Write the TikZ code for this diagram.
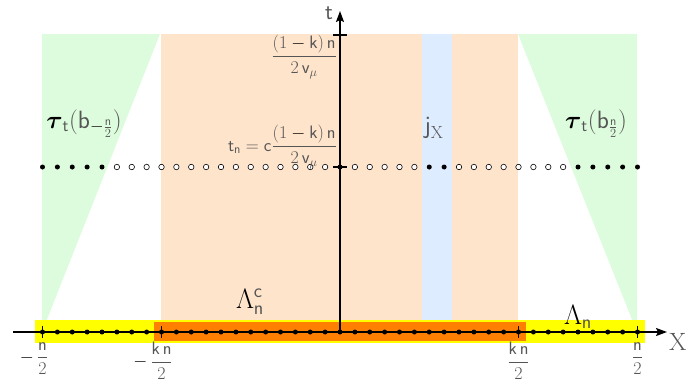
\RequirePackage{fix-cm}
\documentclass[tikz,border=0pt]{standalone}
\usepackage{amsmath,bm}
\usetikzlibrary{arrows.meta,calc}
\definecolor{peach}{RGB}{255,228,204}
\definecolor{skyb}{RGB}{221,236,255}
\definecolor{mint}{RGB}{221,252,221}
\definecolor{yel}{RGB}{255,255,0}
\definecolor{org}{RGB}{255,128,0}
\definecolor{txt}{RGB}{85,85,85}
\newcommand\sv[1]{\textsf{#1}}
\newcommand\bmin{\mathbin{\color{black}-}}
\begin{document}
\begin{tikzpicture}[x=1pt,y=-1pt,
  dotf/.style={circle,fill=black,inner sep=0pt,minimum size=5pt},
  doto/.style={circle,draw=black,fill=white,line width=0.6pt,inner sep=0pt,minimum size=5.5pt},
  axisline/.style={line width=1.6pt,-{Stealth[length=11pt,width=8pt,inset=2pt]}},
  tickmark/.style={line width=1.4pt},
  lbl/.style={text=txt,inner sep=0pt},
  big/.style={lbl,font=\fontsize{25}{27}\selectfont},
  huge/.style={lbl,font=\fontsize{28}{30}\selectfont},
  mid/.style={lbl,font=\fontsize{18}{20}\selectfont},
  ticklbl/.style={lbl,anchor=north,font=\fontsize{18}{20}\selectfont},
]
\useasboundingbox (0,0) rectangle (700,386);
% regions
\fill[mint] (42,34) -- (160,34) -- (42,332) -- cycle;
\fill[mint] (518,34) -- (637,34) -- (637,332) -- cycle;
\fill[peach] (161,34) rectangle (518,332);
\fill[skyb] (421.5,34) rectangle (451.5,322);
\fill[yel] (35,320) rectangle (645,343);
\fill[org] (154,322) rectangle (526,341);
% axes
\coordinate (O) at (340,332);
\coordinate (xs) at (13,332);
\coordinate (xe) at (667,332);
\coordinate (te) at (340,11);
\draw[axisline] (xs) -- (xe);
\draw[axisline] (O) -- (te);
\coordinate (ttop) at (340,35);
\coordinate (tn) at (340,167);
\draw[tickmark] ($(ttop)+(-7,0)$) -- ($(ttop)+(7,0)$);
\draw[tickmark] ($(tn)+(-7,0)$) -- ($(tn)+(7,0)$);
% lattice on axis
\foreach \i in {-20,...,20}{
  \node[dotf] (a\i) at ({340+\i*14.875},332) {};
}
\foreach \i in {-20,-12,12,20}{
  \draw[tickmark] ($(a\i)+(0,-6)$) -- ($(a\i)+(0,6)$);
}
% row at t_n
\foreach \i in {-20,...,20}{
  \pgfmathtruncatemacro\f{(\i<-15)||(\i>15)||(\i==6)||(\i==7)||(\i==0)}
  \ifnum\f=1
    \node[dotf] (r\i) at ({340+\i*14.875},167) {};
  \else
    \node[doto] (r\i) at ({340+\i*14.875},167) {};
  \fi
}
% labels
\node[lbl,anchor=base,font=\fontsize{23}{25}\selectfont] (tlab) at (329,19) {\sv{t}};
\node[big,anchor=base west] (xlab) at (669,350) {X};
\node[mid,anchor=east] (frac1) at (337,57) {$\dfrac{(1\bmin\sv{k})\,\sv{n}}{2\,\sv{v}_{\mu}}$};
\node[mid,anchor=east] (tnlab) at (337,147) {$\sv{t}_{\sv{n}}=\sv{c}\dfrac{(1\bmin\sv{k})\,\sv{n}}{2\,\sv{v}_{\mu}}$};
\node[big,anchor=base] (tauL) at (84,128) {${\color{black}\bm{\tau}}_{\sv{t}}(\sv{b}_{\bmin\frac{\sv{n}}{2}})$};
\node[big,anchor=base] (tauR) at (596,128) {${\color{black}\bm{\tau}}_{\sv{t}}(\sv{b}_{\frac{\sv{n}}{2}})$};
\node[big,anchor=base] (jx) at (434,133) {$\sv{j}_{\mathrm{X}}$};
\node[huge,anchor=base] (lamc) at (250,308) {${\color{black}\Lambda}_{\sv{n}}^{\sv{c}}$};
\node[huge,anchor=base] (lam) at (578,324) {${\color{black}\Lambda}_{\sv{n}}$};
\node[ticklbl] (l1) at ($(a-20)+(0,10)$) {$\llap{$\color{black}-$\,}\dfrac{\sv{n}}{2}$};
\node[ticklbl] (l2) at ($(a-12)+(0,10)$) {$\llap{$\color{black}-$\,}\dfrac{\sv{k}\,\sv{n}}{2}$};
\node[ticklbl] (l3) at ($(a12)+(0,10)$) {$\dfrac{\sv{k}\,\sv{n}}{2}$};
\node[ticklbl] (l4) at ($(a20)+(0,10)$) {$\dfrac{\sv{n}}{2}$};
\end{tikzpicture}
\end{document}
